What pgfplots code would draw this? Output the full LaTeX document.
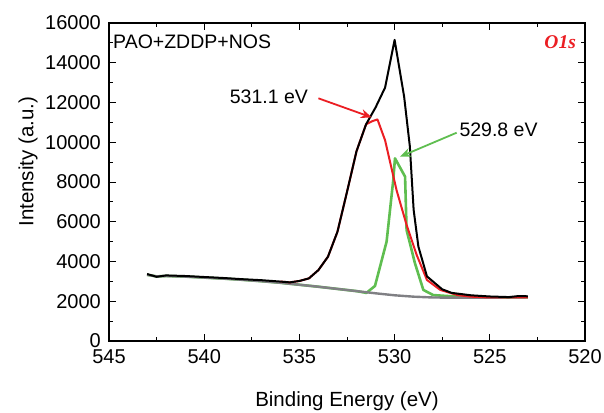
\documentclass[border=0pt]{standalone}
\usepackage{fontspec}
\setmainfont{Liberation Sans}
\newfontfamily\timesfont{Liberation Serif}
\usepackage{pgfplots}
\pgfplotsset{compat=1.18}
\usetikzlibrary{arrows.meta}

\definecolor{pkred}{RGB}{235,30,35}
\definecolor{pkgreen}{RGB}{95,190,80}
\definecolor{bggray}{RGB}{128,128,132}

\begin{document}
\fontsize{19.5}{23}\selectfont
\begin{tikzpicture}
\path[use as bounding box] (0,0) rectangle (604pt,412pt);
\begin{axis}[
    at={(109pt,71pt)}, anchor=south west,
    scale only axis,
    width=476pt, height=318pt,
    x dir=reverse,
    xmin=520, xmax=545,
    ymin=0, ymax=16000,
    xtick={520,525,530,535,540,545},
    ytick={0,2000,4000,6000,8000,10000,12000,14000,16000},
    minor x tick num=1,
    minor y tick num=1,
    tick align=inside,
    major tick length=7pt,
    minor tick length=4.5pt,
    tick style={black, line width=0.9pt},
    axis line style={black, line width=1.1pt},
    /pgf/number format/assume math mode=true,
    /pgf/number format/set thousands separator={},
    scaled y ticks=false,
    ticklabel style={font=\fontsize{20}{24}\selectfont},
    xticklabel style={yshift=-2pt},
    yticklabel style={xshift=-1.5pt},
    xlabel={Binding Energy (eV)},
    ylabel={Intensity (a.u.)},
    xlabel style={at={(axis description cs:0.5,-0.2066)}, anchor=base, font=\fontsize{20.5}{24}\selectfont},
    ylabel style={at={(axis description cs:-0.159,0.564)}, anchor=base, font=\fontsize{20.5}{24}\selectfont},
    clip=false,
]

% green component (O 529.8 eV)
\addplot[color=pkgreen, line width=2.6pt, line join=round] coordinates {
(543.0,3330)(542.5,3250)(542,3270)(541,3240)(540,3190)(539,3140)(538,3080)
(537,3010)(536,2930)(535,2830)(534,2730)(533,2620)(532,2510)(531.48,2420)
(531.03,2770)(530.42,5000)(530.07,8100)(529.98,9190)(529.45,8270)(529.37,5580)
(528.93,3910)(528.49,2570)(527.97,2310)(526.7,2230)(526,2190)(525,2180)(524,2190)(523,2200)
};

% background
\addplot[color=bggray, line width=2.4pt, line join=round] coordinates {
(543.0,3330)(542.5,3250)(542,3270)(541,3240)(540,3190)(539,3140)(538,3080)
(537,3010)(536,2930)(535,2830)(534,2730)(533,2620)(532,2510)(531,2400)
(530,2300)(529,2230)(528,2190)(527,2180)(526,2180)(525,2180)(524,2190)(523,2200)
};

% red component (O 531.1 eV)
\addplot[color=pkred, line width=2pt, line join=round] coordinates {
(536,2990)(535.5,2950)(535,3020)(534.5,3150)(534,3570)(533.5,4240)(533,5500)
(532.5,7500)(532,9550)(531.5,10900)(531.2,11050)(530.9,11150)(530.5,10100)
(529.9,7600)(529.37,5840)(528.84,4330)(528.3,3070)(527.6,2570)(526.7,2310)
(526,2230)(525,2190)(524,2190)(523,2200)
};

% measured spectrum
\addplot[color=black, line width=2pt, line join=round] coordinates {
(543.0,3370)(542.5,3230)(542.0,3300)(541,3270)(540,3220)(539,3170)(538,3110)
(537,3060)(536,2990)(535.5,2950)(535,3020)(534.5,3150)(534,3570)(533.5,4240)
(533,5500)(532.5,7500)(532,9550)(531.5,10900)(531,11750)(530.5,12750)
(530,15150)(529.5,12300)(529.2,9800)(529,6600)(528.75,4750)(528.3,3250)
(527.5,2600)(527,2420)(526,2300)(525,2240)(524,2210)(523.5,2260)(523,2250)
};

\draw[pkred, line width=1.8pt, -{Stealth[length=11pt,width=9pt]}]
    (axis cs:534.0,12210) -- (axis cs:531.2,11250);
\draw[pkgreen, line width=1.8pt, -{Stealth[length=11pt,width=9pt]}]
    (axis cs:526.74,10480) -- (axis cs:529.72,9270);

\node[anchor=base, inner sep=0pt] at (axis cs:536.6,11960) {531.1 eV};
\node[anchor=base, inner sep=0pt] at (axis cs:524.54,10280) {529.8 eV};
\node[anchor=base west, inner sep=0pt] at (axis cs:544.79,14740) {PAO+ZDDP+NOS};
\node[anchor=base east, inner sep=0pt, text=pkred] at (axis cs:520.47,14725)
    {\timesfont\bfseries\itshape O1s};
\end{axis}
\end{tikzpicture}
\end{document}
